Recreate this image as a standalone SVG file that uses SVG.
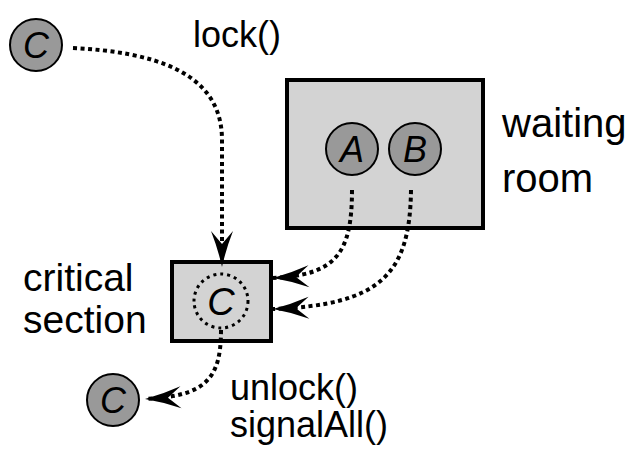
<svg xmlns="http://www.w3.org/2000/svg" width="643" height="456" viewBox="0 0 643 456">
<defs>
<style>
.lbl{font-family:"Liberation Sans",Arial,sans-serif;font-size:40px;fill:#000}
.code{font-family:"Liberation Sans",Arial,sans-serif;font-size:36px;fill:#000}
.tok{fill:#999;stroke:#000;stroke-width:2}
.let{font-family:"Liberation Sans",Arial,sans-serif;font-size:36px;font-style:italic;text-anchor:middle;fill:#000}
.room{fill:#d3d3d3;stroke:#000;stroke-width:4}
.conn{fill:none;stroke:#000;stroke-width:4;stroke-dasharray:4 3.5;marker-end:url(#ah)}
</style>
<marker id="ah" markerUnits="userSpaceOnUse" markerWidth="40" markerHeight="26" viewBox="-37 -13 38 26" refX="0" refY="0" orient="auto">
<path d="M0,0 Q-18,-4 -36,-11 L-23,0 L-36,11 Q-18,4 0,0 Z" fill="#000"/>
</marker>
</defs>
<g id="waiting-room">
<rect class="room" x="287" y="80" width="196" height="148"/>
<text class="lbl" x="502" y="137">waiting</text>
<text class="lbl" x="502" y="192">room</text>
</g>
<g id="critical-section">
<rect class="room" x="172" y="262" width="99" height="79"/>
<text class="lbl" x="23" y="291" style="font-size:39px">critical</text>
<text class="lbl" x="23" y="333" style="font-size:39px">section</text>
</g>
<g id="thread-A">
<circle class="tok" cx="352" cy="149" r="26"/>
<text class="let" x="352" y="162">A</text>
</g>
<g id="thread-B">
<circle class="tok" cx="415" cy="149" r="26"/>
<text class="let" x="415" y="162">B</text>
</g>
<g id="thread-C-start">
<circle class="tok" cx="36" cy="45" r="26"/>
<text class="let" x="36" y="58">C</text>
</g>
<g id="thread-C-in">
<circle cx="221" cy="301" r="27" fill="none" stroke="#000" stroke-width="3" stroke-dasharray="3 4"/>
<text class="let" x="221" y="315" style="font-size:38px">C</text>
</g>
<g id="thread-C-out">
<circle class="tok" cx="113" cy="400" r="26"/>
<text class="let" x="113" y="413">C</text>
</g>
<g id="connectors">
<path class="conn" d="M73,48 C150,52 222,70 222,140 L222,267"/>
<path class="conn" d="M352,190 C352,255 335,275 273,278"/>
<path class="conn" d="M411,190 C410,275 380,305 273,309"/>
<path class="conn" d="M221,330 C221,380 205,396 145,399"/>
<text class="code" x="193" y="47">lock()</text>
<text class="code" x="230" y="400">unlock()</text>
<text class="code" x="230" y="437">signalAll()</text>
</g>
</svg>
